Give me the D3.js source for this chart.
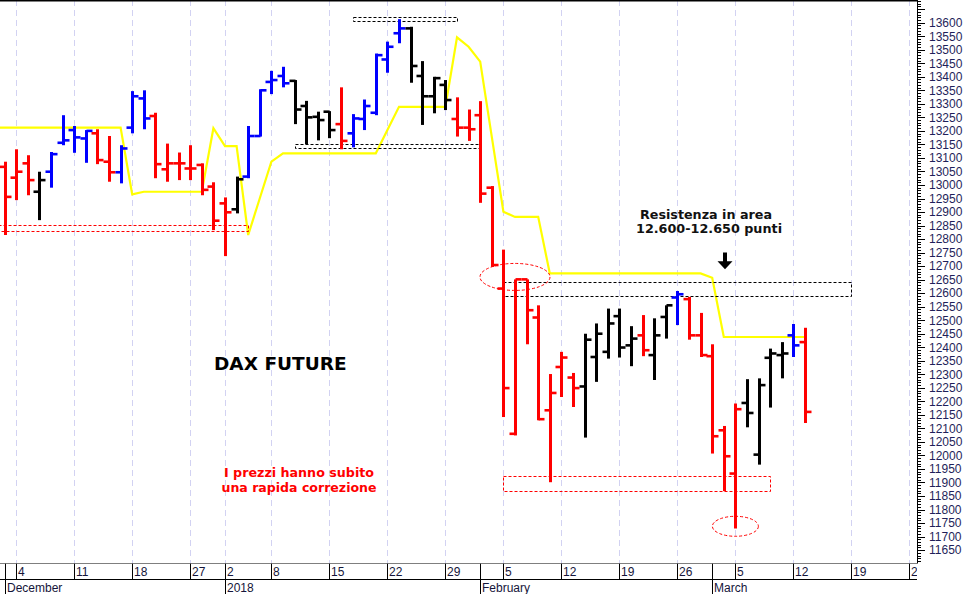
<!DOCTYPE html>
<html><head><meta charset="utf-8">
<script src="https://cdn.jsdelivr.net/npm/d3@7"></script>
<style>html,body{margin:0;padding:0;background:#fff;}svg{display:block;}</style>
</head><body>
<svg id="c" width="966" height="594"></svg>
<script>
// ---- DATA ----
const dates = ["2017-11-30",
"2017-12-01","2017-12-04","2017-12-05","2017-12-06","2017-12-07","2017-12-08",
"2017-12-11","2017-12-12","2017-12-13","2017-12-14","2017-12-15",
"2017-12-18","2017-12-19","2017-12-20","2017-12-21","2017-12-22",
"2017-12-27","2017-12-28","2017-12-29",
"2018-01-02","2018-01-03","2018-01-04","2018-01-05",
"2018-01-08","2018-01-09","2018-01-10","2018-01-11","2018-01-12",
"2018-01-15","2018-01-16","2018-01-17","2018-01-18","2018-01-19",
"2018-01-22","2018-01-23","2018-01-24","2018-01-25","2018-01-26",
"2018-01-29","2018-01-30","2018-01-31","2018-02-01","2018-02-02",
"2018-02-05","2018-02-06","2018-02-07","2018-02-08","2018-02-09",
"2018-02-12","2018-02-13","2018-02-14","2018-02-15","2018-02-16",
"2018-02-19","2018-02-20","2018-02-21","2018-02-22","2018-02-23",
"2018-02-26","2018-02-27","2018-02-28","2018-03-01","2018-03-02",
"2018-03-05","2018-03-06","2018-03-07","2018-03-08","2018-03-09",
"2018-03-12","2018-03-13","2018-03-14","2018-03-15","2018-03-16",
"2018-03-19","2018-03-20","2018-03-21","2018-03-22","2018-03-23",
"2018-03-26","2018-03-27"];

const open = [null,
13067,13027,13080,12975,13049,13156,13203,13172,13191,13086,
13047,13212,13320,13255,13058,13080,13061,13074,12994,12932,
12910,13031,13181,13381,13403,13385,13292,13252,13271,13225,
13191,13244,13267,13464,13561,13579,13403,13328,13370,13244,
13212,13258,12990,12617,12080,12651,12510,12167,12327,12288,
12255,12364,12383,12515,12407,12444,12371,12512,12584,12578,
12444,12367,12093,11933,12194,12003,12361,12371,12444,12419];

const high = [null,
13086,13132,13110,13049,13122,13258,13218,13203,13206,13181,
13147,13347,13350,13267,13153,13120,13147,13080,13010,12954,
13031,13218,13354,13422,13437,13388,13311,13271,13273,13361,
13262,13316,13486,13530,13613,13585,13458,13400,13388,13324,
13279,13310,12996,12761,12651,12651,12555,12301,12383,12305,
12450,12488,12543,12543,12478,12519,12507,12555,12608,12586,
12527,12411,12109,12192,12282,12285,12395,12419,12486,12472];

const low = [null,
12815,12944,12962,12870,12990,13147,13119,13082,13077,13012,
13006,13191,13206,13025,13012,13018,13018,12962,12833,12737,
12895,13025,13179,13336,13361,13225,13151,13165,13173,13132,
13139,13203,13258,13415,13524,13378,13222,13265,13277,13179,
13163,12934,12697,12142,12074,12411,12130,11901,12216,12179,
12066,12272,12358,12362,12330,12367,12279,12432,12482,12428,
12364,12007,11868,11730,12104,11966,12177,12285,12364,12120];

const close = [null,
12956,13049,13018,13018,13114,13165,13176,13200,13092,13047,
13135,13328,13246,13077,13080,13080,13061,12982,12868,12899,
13021,13181,13350,13388,13376,13279,13250,13240,13203,13163,
13246,13292,13480,13511,13579,13440,13328,13395,13314,13212,
13206,12968,12704,12249,12651,12537,12134,12231,12362,12249,
12428,12450,12488,12399,12432,12389,12444,12555,12596,12444,
12371,12071,11997,12171,12157,12260,12377,12377,12407,12161];

// bar signal: 1 = bullish (blue), -1 = bearish (red), 0 = neutral (black)
const signal = [null,
-1,-1,-1,0,1,1,1,1,-1,-1,
1,1,1,-1,-1,-1,-1,-1,-1,-1,
0,1,1,1,1,0,0,0,0,-1,
1,1,1,1,1,0,0,0,0,-1,
-1,-1,-1,-1,-1,-1,-1,-1,-1,-1,
0,0,0,0,0,-1,0,0,1,-1,
-1,-1,-1,-1,0,0,0,0,1,-1];

// yellow trailing line
const stopLine = [13212,
13212,13212,13212,13212,13212,13212,13212,13212,13212,13212,
13212,12965,12975,12975,12975,12975,12975,12975,13210,13144,
13144,12815,12951,13086,13117,13117,13117,13117,13117,13117,
13117,13117,13117,13203,13289,13289,13289,13289,13289,13546,
13511,13456,13178,12901,12882,12882,12882,12673,12673,12673,
12673,12673,12673,12673,12673,12673,12673,12673,12673,12673,
12673,12657,12438,12438,12438,12438,12438,12438,12438,12438];

const priceTicks = d3.range(11650, 13601, 50);
const monthNames = ["2018","February","March","April","May","June","July","August","September","October","November","December"];

// ---- CHART ----
const svg = d3.select("#c");
const plotRight = 917, plotBottom = 563.5;
const D = dates.map(d3.timeParse("%Y-%m-%d"));
const x = d3.scaleLinear().domain([1, 79]).range([4.6, 909.4]);
const y = d3.scaleLinear().domain([11650, 13600]).range([550.1, 22.7]);
const idx = s => dates.indexOf(s);
const px = i => Math.round(x(i)) + 0.5;

const defs = svg.append("defs");
defs.append("clipPath").attr("id","plot").append("rect").attr("x",0).attr("y",0).attr("width",plotRight).attr("height",plotBottom);
defs.append("clipPath").attr("id","xax").append("rect").attr("x",0).attr("y",plotBottom).attr("width",plotRight).attr("height",40);

const weekStart = D.map((d,i)=> i>0 && +d3.timeMonday.floor(d) !== +d3.timeMonday.floor(D[i-1]));
const monthStart = D.map((d,i)=> i>0 && d.getMonth() !== D[i-1].getMonth());

const plot = svg.append("g").attr("clip-path","url(#plot)");

// gridlines
plot.append("g").selectAll("line").data(D.map((d,i)=>i).filter(i=>weekStart[i])).join("line")
  .attr("x1",px).attr("x2",px).attr("y1",0).attr("y2",plotBottom)
  .attr("stroke","#d2d2f2").attr("stroke-width",1).attr("stroke-dasharray","6,4");

// yellow line
plot.append("path").datum(stopLine)
  .attr("d", d3.line().x((v,i)=>x(i)).y(v=>y(v)))
  .attr("fill","none").attr("stroke","#ffff00").attr("stroke-width",2.2);

// annotations: dashed zones
const zones = [
  {from:"2018-01-17", to:"2018-01-30", top:13620, bottom:13606, color:"#000"},
  {from:"2018-01-10", to:"2018-02-01", top:13151, bottom:13138, color:"#000"},
  {from:"2017-11-30", to:"2018-01-04", top:12852, bottom:12829, color:"#ff0000"},
  {from:"2018-02-05", to:"2018-03-19", top:12642, bottom:12590, color:"#000"},
  {from:"2018-02-05", to:"2018-03-08", top:11923, bottom:11867, color:"#ff0000"}
];
plot.append("g").selectAll("rect").data(zones).join("rect")
  .attr("x", d=>Math.round(x(idx(d.from)))+0.5)
  .attr("y", d=>Math.round(y(d.top))+0.5)
  .attr("width", d=>Math.round(x(idx(d.to)) - x(idx(d.from))))
  .attr("height", d=>Math.round(y(d.bottom)-y(d.top)))
  .attr("fill","none").attr("stroke",d=>d.color).attr("stroke-width",1).attr("stroke-dasharray","3,2");

const circles = [
  {at:"2018-02-06", v:12660, rx:35, ry:13.5},
  {at:"2018-03-05", v:11738, rx:23, ry:10}
];
plot.append("g").selectAll("ellipse").data(circles).join("ellipse")
  .attr("cx", d=>x(idx(d.at))).attr("cy", d=>y(d.v))
  .attr("rx", d=>d.rx).attr("ry", d=>d.ry)
  .attr("fill","none").attr("stroke","#ff0000").attr("stroke-width",1).attr("stroke-dasharray","3,2");

// OHLC bars
const colorOf = s => s===1 ? "#0000ff" : (s===-1 ? "#ff0000" : "#000000");
const bars = d3.range(1, open.length).map(i=>({i, o:open[i], h:high[i], l:low[i], c:close[i], s:signal[i]}));
const bg = plot.append("g").selectAll("g").data(bars).join("g")
  .attr("stroke", d=>colorOf(d.s)).attr("stroke-width",3);
bg.append("line").attr("x1",d=>px(d.i)).attr("x2",d=>px(d.i))
  .attr("y1",d=>y(d.h)).attr("y2",d=>y(d.l));
bg.append("line").attr("x1",d=>px(d.i)-6).attr("x2",d=>px(d.i))
  .attr("y1",d=>y(d.o)).attr("y2",d=>y(d.o)).attr("stroke-width",2.6);
bg.append("line").attr("x1",d=>px(d.i)).attr("x2",d=>px(d.i)+6)
  .attr("y1",d=>y(d.c)).attr("y2",d=>y(d.c)).attr("stroke-width",2.6);

// arrow
const ax = x(idx("2018-03-02")) + 1.2, ay1 = y(12750), ay2 = y(12688);
plot.append("path")
  .attr("d", `M${ax-2},${ay1} L${ax+2},${ay1} L${ax+2},${ay2-8} L${ax+7.5},${ay2-8} L${ax},${ay2} L${ax-7.5},${ay2-8} L${ax-2},${ay2-8} Z`)
  .attr("fill","#000");

// texts
const bold = "'DejaVu Sans', Verdana, sans-serif";
svg.append("text").attr("x",214).attr("y",370).attr("font-family",bold).attr("font-weight","bold")
  .attr("font-size",18.5).attr("fill","#000").text("DAX FUTURE");
[["I prezzi hanno subito",477.3,150],["una rapida correzione",491.6,155]].forEach(([t,yy,w])=>{
  svg.append("text").attr("x",299).attr("y",yy).attr("text-anchor","middle").attr("font-family",bold)
    .attr("font-weight","bold").attr("font-size",12).attr("fill","#ff0000")
    .attr("textLength",w).attr("lengthAdjust","spacingAndGlyphs").text(t);
});
[["Resistenza in area",219,132,706],["12.600-12.650 punti",233.3,146,709]].forEach(([t,yy,w,cx])=>{
  svg.append("text").attr("x",cx).attr("y",yy).attr("text-anchor","middle").attr("font-family",bold)
    .attr("font-weight","bold").attr("font-size",12).attr("fill","#111")
    .attr("textLength",w).attr("lengthAdjust","spacingAndGlyphs").text(t);
});

// top border
svg.append("line").attr("x1",0).attr("x2",plotRight).attr("y1",0.75).attr("y2",0.75).attr("stroke","#000").attr("stroke-width",1.5);

// right axis
const axisX = 917.5;
const ya = svg.append("g");
ya.append("line").attr("x1",axisX).attr("x2",axisX).attr("y1",0).attr("y2",plotBottom).attr("stroke","#000");
const minor = d3.range(11600, 13700, 10).filter(v=>y(v)>=0 && y(v)<=plotBottom);
ya.selectAll("line.t").data(minor).join("line").attr("class","t")
  .attr("x1",axisX).attr("x2",v=> v%50===0 ? axisX+7.5 : axisX+3.5)
  .attr("y1",v=>Math.round(y(v))+0.5).attr("y2",v=>Math.round(y(v))+0.5)
  .attr("stroke","#000").attr("stroke-width",1);
ya.selectAll("text").data(priceTicks).join("text")
  .attr("x",929).attr("y",v=>y(v)).attr("dy","0.36em")
  .attr("font-family","'Liberation Sans', Arial, sans-serif").attr("font-size",12).attr("fill","#1f1f5a")
  .text(v=>v);

// bottom axis
const xa = svg.append("g").attr("clip-path","url(#xax)");
xa.append("line").attr("x1",0).attr("x2",plotRight).attr("y1",563.5).attr("y2",563.5).attr("stroke","#000");
xa.append("line").attr("x1",0).attr("x2",plotRight).attr("y1",579.5).attr("y2",579.5).attr("stroke","#000");
const ids = D.map((d,i)=>i);
xa.selectAll("line.s1").data(ids.filter(i=>weekStart[i]||monthStart[i])).join("line").attr("class","s1")
  .attr("x1",px).attr("x2",px).attr("y1",563.5).attr("y2",579.5).attr("stroke","#000");
xa.selectAll("line.s2").data(ids.filter(i=>monthStart[i])).join("line").attr("class","s2")
  .attr("x1",px).attr("x2",px).attr("y1",579.5).attr("y2",594).attr("stroke","#000");
const axFont = "'Liberation Sans', Arial, sans-serif";
xa.selectAll("text.d").data(ids.filter(i=>weekStart[i])).join("text").attr("class","d")
  .attr("x",i=>px(i)+1.5).attr("y",576).attr("font-family",axFont).attr("font-size",12).attr("fill","#15153a")
  .text(i=>D[i].getDate());
xa.selectAll("text.m").data(ids.filter(i=>monthStart[i])).join("text").attr("class","m")
  .attr("x",i=>px(i)+1.5).attr("y",591.5).attr("font-family",axFont).attr("font-size",12).attr("fill","#15153a")
  .text(i=>monthNames[D[i].getMonth()]);
</script>
</body></html>
